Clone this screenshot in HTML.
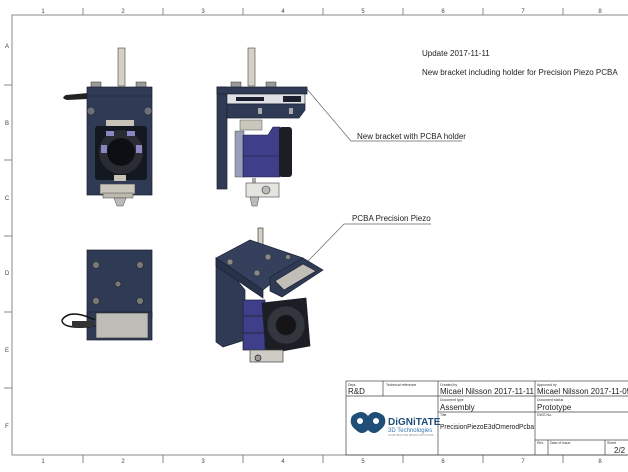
<!DOCTYPE html>
<html><head><meta charset="utf-8"><style>
html,body{margin:0;padding:0;background:#fff;width:628px;height:472px;overflow:hidden}
svg{display:block;font-family:"Liberation Sans",sans-serif}
</style></head><body>
<svg width="628" height="472" viewBox="0 0 628 472" xmlns="http://www.w3.org/2000/svg">
<rect width="628" height="472" fill="#fff"/>
<g stroke="#888" stroke-width="1" fill="none">
<polyline points="640,15 12,15 12,455 640,455"/>
<line x1="83" y1="8" x2="83" y2="15"/><line x1="163" y1="8" x2="163" y2="15"/><line x1="243" y1="8" x2="243" y2="15"/><line x1="323" y1="8" x2="323" y2="15"/><line x1="403" y1="8" x2="403" y2="15"/><line x1="483" y1="8" x2="483" y2="15"/><line x1="563" y1="8" x2="563" y2="15"/>
<line x1="83" y1="455" x2="83" y2="463"/><line x1="163" y1="455" x2="163" y2="463"/><line x1="243" y1="455" x2="243" y2="463"/><line x1="323" y1="455" x2="323" y2="463"/><line x1="403" y1="455" x2="403" y2="463"/><line x1="483" y1="455" x2="483" y2="463"/><line x1="563" y1="455" x2="563" y2="463"/>
<line x1="4" y1="85" x2="12" y2="85"/><line x1="4" y1="160" x2="12" y2="160"/><line x1="4" y1="236" x2="12" y2="236"/><line x1="4" y1="312" x2="12" y2="312"/><line x1="4" y1="388" x2="12" y2="388"/>
</g>
<g font-size="6" fill="#444" text-anchor="middle">
<text x="43" y="13">1</text><text x="123" y="13">2</text><text x="203" y="13">3</text><text x="283" y="13">4</text><text x="363" y="13">5</text><text x="443" y="13">6</text><text x="523" y="13">7</text><text x="600" y="13">8</text>
<text x="43" y="463">1</text><text x="123" y="463">2</text><text x="203" y="463">3</text><text x="283" y="463">4</text><text x="363" y="463">5</text><text x="443" y="463">6</text><text x="523" y="463">7</text><text x="600" y="463">8</text>
<text x="7" y="48">A</text><text x="7" y="125">B</text><text x="7" y="200">C</text><text x="7" y="275">D</text><text x="7" y="352">E</text><text x="7" y="428">F</text>
</g>
<g font-size="8" fill="#222">
<text x="422" y="56">Update 2017-11-11</text>
<text x="422" y="75">New bracket including holder for Precision Piezo PCBA</text>
<text x="357" y="139">New bracket with PCBA holder</text>
<text x="352" y="221">PCBA Precision Piezo</text>
</g>
<g stroke="#666" stroke-width="0.7" fill="none">
<polyline points="306,88 351,141 462,141"/>
<polyline points="278,292 344,224 431,224"/>
</g>
<!-- VIEW 1 -->
<g>
<rect x="118" y="48" width="7" height="38" fill="#d4d0c4" stroke="#444" stroke-width="0.6"/>
<rect x="91" y="82" width="10" height="6" fill="#9a9a98" stroke="#333" stroke-width="0.5"/>
<rect x="136" y="82" width="10" height="6" fill="#9a9a98" stroke="#333" stroke-width="0.5"/>
<path d="M66,95 Q60,98 67,100 L88,99 L88,93 Z" fill="#222"/>
<rect x="87" y="87" width="65" height="108" fill="#2f3b55" stroke="#1a2030" stroke-width="0.7"/>
<line x1="87" y1="96" x2="152" y2="96" stroke="#1a2030" stroke-width="0.6"/>
<circle cx="91" cy="111" r="4" fill="#6a7080" stroke="#222" stroke-width="0.6"/>
<circle cx="148" cy="111" r="4" fill="#6a7080" stroke="#222" stroke-width="0.6"/>
<rect x="106" y="120" width="28" height="6" fill="#c8c4b8"/>
<rect x="95" y="126" width="52" height="54" fill="#141820" rx="3"/>
<circle cx="121" cy="152" r="22" fill="#2a2c34"/>
<circle cx="121" cy="152" r="14" fill="#0d0f14"/>
<rect x="101" y="145" width="6" height="8" fill="#8a86c0"/><rect x="136" y="145" width="6" height="8" fill="#8a86c0"/>
<rect x="106" y="131" width="8" height="5" fill="#8a86c0"/><rect x="127" y="131" width="8" height="5" fill="#8a86c0"/>
<rect x="114" y="175" width="12" height="6" fill="#c8c4b8"/>
<rect x="100" y="184" width="35" height="10" fill="#c9c6bc" stroke="#444" stroke-width="0.6"/>
<rect x="103" y="193" width="30" height="5" fill="#bdb9ae" stroke="#444" stroke-width="0.5"/>
<path d="M114,198 L126,198 L123,206 L117,206 Z" fill="#bbb" stroke="#444" stroke-width="0.5"/>
</g>
<!-- VIEW 2 -->
<g>
<rect x="248" y="48" width="7" height="38" fill="#d4d0c4" stroke="#444" stroke-width="0.6"/>
<rect x="231" y="82" width="10" height="6" fill="#9a9a98" stroke="#333" stroke-width="0.5"/>
<rect x="266" y="82" width="10" height="6" fill="#9a9a98" stroke="#333" stroke-width="0.5"/>
<rect x="217" y="87" width="10" height="102" fill="#2f3b55" stroke="#1a2030" stroke-width="0.7"/>
<rect x="217" y="87" width="90" height="7" fill="#2f3b55" stroke="#1a2030" stroke-width="0.7"/>
<rect x="227" y="94" width="78" height="10" fill="#dfe0e4" stroke="#1a2030" stroke-width="0.6"/>
<rect x="236" y="97" width="28" height="4" fill="#1a2030"/>
<rect x="283" y="96" width="18" height="6" fill="#1a2030"/>
<path d="M227,104 L305,104 L305,110 L299,118 L227,118 Z" fill="#2f3b55" stroke="#1a2030" stroke-width="0.7"/>
<rect x="258" y="108" width="4" height="6" fill="#aaa"/><rect x="289" y="108" width="4" height="6" fill="#aaa"/>
<rect x="240" y="120" width="22" height="10" fill="#c9c6bc" stroke="#555" stroke-width="0.5"/>
<rect x="235" y="131" width="9" height="46" fill="#9aa0b8" stroke="#333" stroke-width="0.4"/>
<path d="M243,135 L268,135 L273,127 L280,127 L280,177 L243,177 Z" fill="#3e3e8a" stroke="#1a1a40" stroke-width="0.6"/>
<line x1="243" y1="156" x2="280" y2="156" stroke="#1a1a40" stroke-width="0.6"/>
<rect x="279" y="127" width="13" height="50" rx="3" fill="#1c1e24"/>
<rect x="252" y="178" width="4" height="5" fill="#aaa"/>
<rect x="246" y="183" width="33" height="14" fill="#e6e4de" stroke="#444" stroke-width="0.6"/>
<circle cx="266" cy="190" r="4" fill="#bbb" stroke="#333" stroke-width="0.6"/>
<path d="M250,197 L259,197 L257,206 L252,206 Z" fill="#bbb" stroke="#444" stroke-width="0.5"/>
</g>
<!-- VIEW 3 -->
<g>
<rect x="87" y="250" width="65" height="68" fill="#2f3b55" stroke="#1a2030" stroke-width="0.7"/>
<rect x="87" y="312" width="65" height="28" fill="#2f3b55" stroke="#1a2030" stroke-width="0.7"/>
<g fill="#777" stroke="#222" stroke-width="0.6">
<circle cx="96" cy="265" r="3.5"/><circle cx="140" cy="265" r="3.5"/><circle cx="118" cy="284" r="3"/><circle cx="96" cy="301" r="3.5"/><circle cx="140" cy="301" r="3.5"/>
</g>
<rect x="96" y="313" width="52" height="25" fill="#bdbcb6" stroke="#333" stroke-width="0.6"/>
<path d="M95,320 Q70,308 62,320 Q62,330 95,326" fill="none" stroke="#111" stroke-width="1.4"/>
<rect x="72" y="321" width="22" height="6" fill="#333"/>
</g>
<!-- VIEW 4 iso -->
<g stroke="#1a2030" stroke-width="0.7">
<rect x="258" y="228" width="5" height="40" fill="#d4d0c4" stroke="#444"/>
<path d="M216,258 L216,342 L223,347 L245,340 L245,290 L222,262 Z" fill="#2f3b55"/>
<path d="M216,258 L250,240 L303,258 L263,290 Z" fill="#34405c"/>
<path d="M216,258 L263,290 L263,298 L216,266 Z" fill="#28324a"/>
<path d="M270,277 L303,258 L323,270 L282,297 L270,291 Z" fill="#2f3b55"/>
<path d="M275,281 L303,264 L316,271 L284,290 Z" fill="#c0beb6"/>
<rect x="243" y="300" width="22" height="50" fill="#3e3e8a"/>
<line x1="243" y1="316" x2="265" y2="316" stroke="#222"/><line x1="243" y1="333" x2="265" y2="333" stroke="#222"/>
<path d="M262,303 L306,298 L310,346 L266,354 Z" fill="#1c1e24"/>
<circle cx="286" cy="325" r="19" fill="#34363e"/>
<circle cx="286" cy="325" r="10" fill="#151518"/>
<rect x="250" y="350" width="33" height="12" fill="#cfccc4" stroke="#444"/>
<circle cx="258" cy="358" r="3" fill="#999"/>
</g>
<g fill="#888" stroke="#222" stroke-width="0.5">
<circle cx="230" cy="262" r="3"/><circle cx="268" cy="257" r="3"/><circle cx="257" cy="273" r="3"/><circle cx="288" cy="257" r="2.5"/>
</g>
<!-- title block -->
<g stroke="#444" stroke-width="0.7" fill="none">
<rect x="346" y="381" width="290" height="74"/>
<line x1="346" y1="396" x2="636" y2="396"/>
<line x1="383" y1="381" x2="383" y2="396"/>
<line x1="438" y1="381" x2="438" y2="455"/>
<line x1="535" y1="381" x2="535" y2="455"/>
<line x1="438" y1="412" x2="636" y2="412"/>
<line x1="535" y1="440" x2="636" y2="440"/>
<line x1="548" y1="440" x2="548" y2="455"/>
<line x1="605" y1="440" x2="605" y2="455"/>
</g>
<g fill="#333" font-size="3.5">
<text x="348" y="386">Dept.</text><text x="386" y="386">Technical reference</text>
<text x="440" y="386">Created by</text><text x="537" y="386">Approved by</text>
<text x="440" y="401">Document type</text><text x="537" y="401">Document status</text>
<text x="440" y="416">Title</text><text x="537" y="416">DWG No.</text>
<text x="537" y="444">Rev.</text><text x="550" y="444">Date of issue</text><text x="607" y="444">Sheet</text>
</g>
<g fill="#222" font-size="8">
<text x="348" y="394">R&amp;D</text>
<text x="440" y="394" textLength="94" lengthAdjust="spacingAndGlyphs">Micael Nilsson  2017-11-11</text>
<text x="537" y="394">Micael Nilsson  2017-11-05</text>
<text x="440" y="410">Assembly</text>
<text x="537" y="410">Prototype</text>
<text x="440" y="429" font-size="7.5" textLength="94" lengthAdjust="spacingAndGlyphs">PrecisionPiezoE3dOmerodPcba</text>
<text x="614" y="453">2/2</text>
</g>
<g>
<path d="M352,416 q10,-8 16,0 q6,-8 16,0 q4,8 -4,14 q-6,6 -12,0 q-6,6 -12,0 q-8,-6 -4,-14 Z" fill="#1f4e79"/>
<circle cx="360" cy="421" r="3" fill="#fff"/><circle cx="376" cy="421" r="3" fill="#fff"/>
<text x="388" y="425" font-size="10" font-weight="bold" fill="#1f4e79">DiGNiTATE</text>
<text x="388" y="432" font-size="6" fill="#3a79b8">3D Technologies</text>
<text x="388" y="436" font-size="2.5" fill="#888">CONSTRUCTION DESIGN SOLUTIONS</text>
</g>
</svg>
</body></html>
